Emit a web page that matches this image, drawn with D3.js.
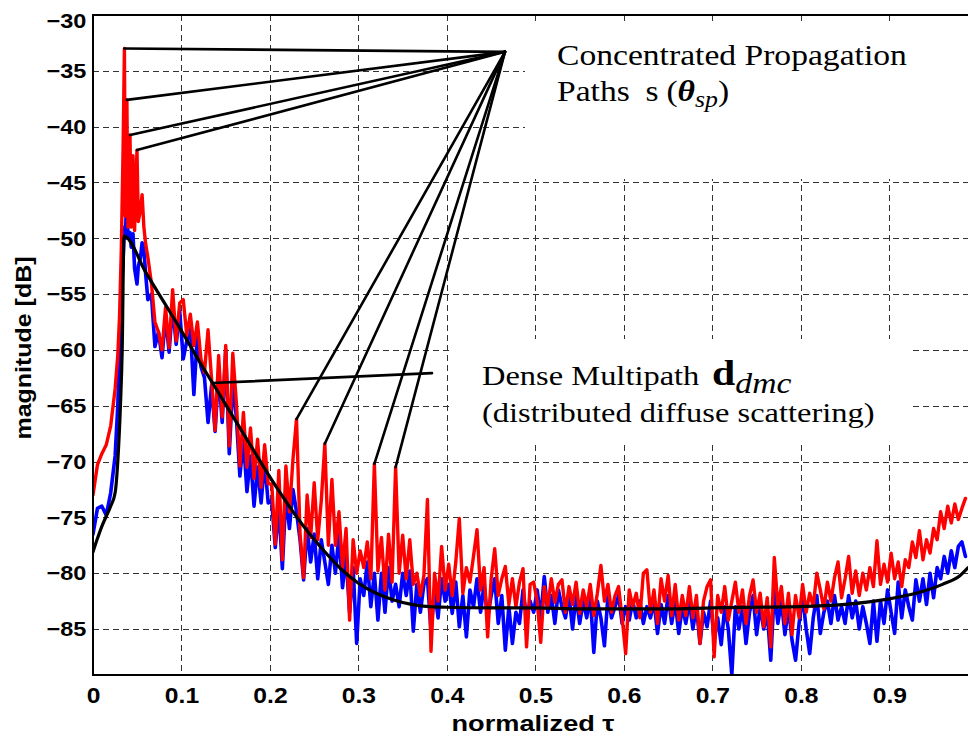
<!DOCTYPE html>
<html>
<head>
<meta charset="utf-8">
<style>
body { margin: 0; background: #fff; }
</style>
</head>
<body>
<svg id="chart" width="968" height="737"></svg>
<script src="https://cdn.jsdelivr.net/npm/d3@7"></script>
<script>
// ---- data ----
// sampling positions (normalized tau)
var tauHead = [0, 0.005, 0.010, 0.015, 0.020, 0.025,
  0.028, 0.030, 0.032, 0.034, 0.0355, 0.0365, 0.0383, 0.0395, 0.0418, 0.0432,
  0.0452, 0.047, 0.0497, 0.0512, 0.0535, 0.0555, 0.0575, 0.0595, 0.062];
var tauTail = d3.range(231).map(function(i) { return +(0.066 + 0.004 * i).toFixed(3); });

// measured magnitude, red trace [dB]
var redHead = [-73.0, -70.3, -69.3, -68.5, -66.8, -63.5,
  -60.5, -57.0, -51.0, -42.0, -33.0, -48.0, -37.6, -49.0, -40.75, -49.0,
  -42.6, -49.3, -42.1, -48.5, -47.5, -46.1, -49.0, -50.5, -51.7];
var redTail = [
  -54.0, -57.5, -58.4, -60.0, -56.2, -59.8, -54.6, -59.2, -55.8, -55.5,
  -58.7, -56.8, -59.6, -57.5, -60.8, -62.0, -58.2, -62.6, -67.2, -60.5,
  -66.0, -59.6, -68.6, -60.3, -64.7, -70.4, -65.6, -70.5, -67.0, -71.5,
  -68.0, -72.3, -68.5, -72.0, -72.0, -77.4, -70.8, -78.8, -70.4, -74.5,
  -69.8, -66.2, -76.5, -80.4, -73.0, -76.8, -71.9, -77.0, -73.5, -68.4,
  -77.5, -71.6, -77.5, -74.5, -79.5, -76.0, -84.2, -77.0, -80.0, -78.0,
  -79.5, -77.2, -80.5, -70.2, -79.8, -76.8, -81.5, -76.5, -80.8, -70.5,
  -80.0, -76.6, -80.5, -77.0, -81.0, -80.0, -82.0, -80.2, -73.4, -87.0,
  -80.0, -82.5, -77.6, -81.5, -79.2, -82.0, -79.0, -75.1, -81.8, -79.5,
  -80.8, -78.5, -76.1, -81.5, -79.5, -85.7, -80.5, -77.8, -82.0, -80.5,
  -79.4, -82.8, -80.5, -83.0, -80.8, -79.6, -86.6, -81.0, -80.8, -82.5,
  -86.2, -81.2, -83.0, -80.5, -82.6, -81.0, -80.6, -83.5, -81.2, -82.8,
  -80.8, -83.6, -81.5, -83.0, -81.0, -83.8, -81.8, -79.3, -82.5, -81.0,
  -83.5, -82.0, -81.2, -84.0, -87.2, -81.5, -83.0, -81.8, -84.0, -80.0,
  -79.7, -83.5, -81.5, -84.5, -80.5, -82.5, -80.2, -83.8, -81.0, -84.2,
  -82.0, -83.8, -81.2, -84.0, -82.0, -86.3, -82.5, -81.2, -80.6, -87.5,
  -82.0, -83.5, -81.2, -84.2, -82.5, -80.8, -83.5, -81.5, -84.5, -82.0,
  -80.6, -83.5, -81.8, -84.8, -82.2, -86.6, -78.6, -83.0, -81.2, -84.5,
  -81.8, -85.5, -82.0, -84.0, -81.0, -83.5, -81.8, -83.0, -80.0, -81.5,
  -83.2, -80.8, -82.5, -80.4, -79.0, -82.2, -80.5, -78.5, -81.8, -79.8,
  -82.0, -80.0, -81.5, -79.5, -81.2, -77.1, -81.0, -79.2, -80.8, -78.2,
  -80.5, -79.0, -81.2, -78.8, -79.5, -77.2, -78.6, -76.2, -78.8, -77.0,
  -78.2, -76.0, -77.0, -74.5, -76.0, -74.0, -75.5, -73.8, -75.2, -74.2,
  -73.3];

// measured magnitude, blue trace [dB]
var blueHead = [-76.5, -74.2, -74.0, -74.8, -72.8, -69.5,
  -65.0, -60.0, -55.0, -52.0, -49.0, -50.0, -46.1, -50.0, -49.5, -50.8,
  -49.6, -52.7, -54.1, -52.5, -51.8, -50.4, -51.0, -53.2, -55.5];
var blueTail = [
  -55.0, -59.7, -58.4, -60.7, -57.0, -60.2, -56.0, -59.5, -56.5, -60.8,
  -59.2, -58.0, -64.0, -58.6, -61.5, -62.5, -66.5, -63.2, -67.3, -62.0,
  -66.5, -60.0, -69.3, -63.0, -66.0, -71.3, -68.0, -72.7, -69.5, -74.0,
  -70.5, -73.7, -70.0, -73.7, -73.5, -77.7, -74.0, -79.6, -73.0, -76.0,
  -72.5, -74.5, -77.0, -80.6, -76.0, -79.0, -76.5, -80.5, -77.0, -79.0,
  -81.0, -77.5, -80.0, -76.5, -81.3, -78.5, -83.5, -79.5, -86.3, -80.5,
  -82.0, -79.0, -83.0, -80.0, -84.2, -80.0, -83.5, -79.5, -82.5, -81.0,
  -83.0, -80.0, -82.0, -79.8, -85.2, -81.0, -83.5, -81.0, -80.5, -85.2,
  -81.5, -84.0, -80.5, -82.5, -81.0, -83.6, -80.8, -84.8, -82.0, -85.7,
  -81.5, -83.0, -80.5, -83.5, -81.0, -84.0, -82.0, -80.5, -84.5, -82.0,
  -86.9, -83.0, -86.3, -83.5, -84.5, -81.5, -84.0, -82.5, -83.5, -81.5,
  -84.0, -80.3, -83.5, -82.0, -84.5, -81.5, -83.0, -84.0, -82.0, -85.0,
  -82.0, -84.5, -82.5, -84.0, -82.0, -87.1, -82.5, -84.0, -86.5, -82.0,
  -84.0, -83.0, -82.0, -84.5, -83.0, -84.2, -82.5, -84.0, -82.5, -84.5,
  -83.0, -84.0, -82.5, -85.4, -82.8, -84.5, -82.0, -84.5, -82.5, -85.4,
  -83.0, -84.5, -82.5, -85.0, -83.0, -86.3, -83.5, -84.8, -82.5, -86.0,
  -84.0, -86.4, -83.0, -85.0, -89.1, -83.0, -85.0, -83.0, -86.3, -83.5,
  -82.0, -85.5, -83.0, -85.0, -83.5, -87.8, -81.5, -84.5, -82.5, -85.5,
  -83.0, -86.0, -87.8, -84.5, -82.0, -85.0, -87.2, -84.0, -82.0, -85.4,
  -83.5, -82.5, -84.5, -82.0, -84.2, -83.0, -84.5, -82.0, -84.0, -82.5,
  -85.0, -83.0, -84.5, -86.3, -82.5, -86.1, -82.5, -84.5, -81.5, -83.5,
  -85.4, -80.8, -84.0, -81.5, -83.0, -84.2, -80.6, -82.5, -80.5, -82.8,
  -80.0, -82.2, -79.5, -80.5, -78.5, -80.0, -78.0, -79.5, -77.6, -77.2,
  -78.5];

// model (black) curve
var modelTau = [0, 0.005, 0.010, 0.015, 0.020, 0.025, 0.028, 0.031, 0.033, 0.035,
  0.06, 0.08, 0.10, 0.12, 0.14, 0.16, 0.18, 0.20, 0.22, 0.24,
  0.26, 0.28, 0.30, 0.32, 0.34, 0.36, 0.38, 0.40, 0.45, 0.50,
  0.55, 0.60, 0.65, 0.70, 0.75, 0.80, 0.85, 0.90, 0.93, 0.96, 0.98, 0.989];
var modelDb = [-78.1, -76.9, -75.8, -74.9, -74.0, -72.8, -70.0, -65.0, -60.0, -49.8,
  -53.1, -55.7, -58.3, -61.0, -63.6, -66.2, -68.8, -71.4, -73.8, -76.0,
  -77.9, -79.6, -80.9, -81.8, -82.4, -82.8, -83.0, -83.05, -83.1, -83.1,
  -83.2, -83.2, -83.2, -83.1, -83.05, -83.0, -82.8, -82.3, -81.8, -81.0, -80.2, -79.5];

// annotated specular peaks and label anchors
var spikeTau = [0.0355, 0.0383, 0.0418, 0.0497, 0.230, 0.262, 0.318, 0.342];
var spikeDb = [-33.0, -37.6, -40.75, -42.1, -66.2, -68.4, -70.2, -70.5];
var hubPoint = [0.4656, -33.3];
var dmcPointer = [[0.1345, -62.97], [0.3831, -62.08]];

var xTicks = [0, 0.1, 0.2, 0.3, 0.4, 0.5, 0.6, 0.7, 0.8, 0.9];
var yTicks = [-30, -35, -40, -45, -50, -55, -60, -65, -70, -75, -80, -85];

// ---- drawing ----
var svg = d3.select("#chart");
var x = d3.scaleLinear().domain([0, 0.9889]).range([93, 968]);
var y = d3.scaleLinear().domain([-89.12, -30]).range([675, 15]);

var tau = tauHead.concat(tauTail);
var red = tau.map(function(t, i) { return [t, redHead.concat(redTail)[i]]; });
var blue = tau.map(function(t, i) { return [t, blueHead.concat(blueTail)[i]]; });
var model = modelTau.map(function(t, i) { return [t, modelDb[i]]; });

svg.append("rect").attr("width", 968).attr("height", 737).attr("fill", "#fff");

// grid
var grid = svg.append("g").attr("stroke", "#333").attr("stroke-width", 1)
  .attr("stroke-dasharray", "6,4");
grid.selectAll("line.v").data(xTicks.slice(1)).enter().append("line")
  .attr("x1", function(d) { return Math.round(x(d)) + 0.5; })
  .attr("x2", function(d) { return Math.round(x(d)) + 0.5; })
  .attr("y1", y(-30)).attr("y2", 675);
grid.selectAll("line.h").data(yTicks.slice(1)).enter().append("line")
  .attr("y1", function(d) { return Math.round(y(d)) + 0.5; })
  .attr("y2", function(d) { return Math.round(y(d)) + 0.5; })
  .attr("x1", 93).attr("x2", 968);

// white boxes behind the two captions
svg.append("rect").attr("x", 525).attr("y", 21).attr("width", 443).attr("height", 158).attr("fill", "#fff");
svg.append("rect").attr("x", 449).attr("y", 339).attr("width", 464).attr("height", 104).attr("fill", "#fff");

svg.append("clipPath").attr("id", "plot").append("rect")
  .attr("x", 93).attr("y", 15).attr("width", 875).attr("height", 660);

var line = d3.line().x(function(d) { return x(d[0]); }).y(function(d) { return y(d[1]); });
var plot = svg.append("g").attr("clip-path", "url(#plot)").attr("fill", "none")
  .attr("stroke-linejoin", "round").attr("stroke-linecap", "round");

plot.append("path").datum(blue).attr("d", line).attr("stroke", "#0000ff").attr("stroke-width", 3.6);
plot.append("path").datum(red).attr("d", line).attr("stroke", "#ff0000").attr("stroke-width", 3.4);
plot.append("path").datum(model).attr("d", line.curve(d3.curveMonotoneX))
  .attr("stroke", "#000").attr("stroke-width", 3.2);

// pointer lines
var pointers = svg.append("g").attr("stroke", "#000").attr("stroke-width", 2.6).attr("stroke-linecap", "round");
pointers.selectAll("line").data(spikeTau).enter().append("line")
  .attr("x1", x(hubPoint[0])).attr("y1", y(hubPoint[1]))
  .attr("x2", function(d) { return x(d); })
  .attr("y2", function(d, i) { return y(spikeDb[i]); });
pointers.append("line")
  .attr("x1", x(dmcPointer[0][0])).attr("y1", y(dmcPointer[0][1]))
  .attr("x2", x(dmcPointer[1][0])).attr("y2", y(dmcPointer[1][1]));

// frame
svg.append("path").attr("d", "M968,15H93V675H968").attr("fill", "none")
  .attr("stroke", "#000").attr("stroke-width", 2);

// axes labels
var sans = "'Liberation Sans', Arial, sans-serif";
var yAxis = svg.append("g").attr("transform", "translate(93,0)")
  .call(d3.axisLeft(y).tickValues(yTicks).tickSize(0).tickPadding(6).tickFormat(d3.format("d")));
yAxis.select(".domain").remove();
yAxis.attr("font-size", 21).attr("font-weight", "bold").attr("font-family", sans);
yAxis.selectAll("text").attr("fill", "#000").attr("transform", "scale(1.12,1)");
yAxis.selectAll(".tick").filter(function(d) { return d === -30; }).select("text").attr("y", 6);

var xAxis = svg.append("g").attr("transform", "translate(0,675)")
  .call(d3.axisBottom(x).tickValues(xTicks).tickSize(0).tickPadding(12)
    .tickFormat(function(d) { return d === 0 ? "0" : d3.format(".1f")(d); }));
xAxis.select(".domain").remove();
xAxis.attr("font-size", 22).attr("font-weight", "bold").attr("font-family", sans);
xAxis.selectAll("text").attr("fill", "#000").attr("transform", "scale(1.12,1)");

svg.append("text").attr("x", 533).attr("y", 731).attr("text-anchor", "middle")
  .attr("font-family", sans).attr("font-weight", "bold")
  .attr("font-size", 22).attr("textLength", 163).attr("lengthAdjust", "spacingAndGlyphs")
  .text("normalized τ");
svg.append("text").attr("transform", "translate(31,348) rotate(-90)").attr("text-anchor", "middle")
  .attr("font-family", sans).attr("font-weight", "bold")
  .attr("font-size", 22).attr("textLength", 183).attr("lengthAdjust", "spacingAndGlyphs")
  .text("magnitude [dB]");

// captions
var serif = "'Liberation Serif', 'Times New Roman', serif";
var cap1 = svg.append("g").attr("font-family", serif).attr("fill", "#000");
cap1.append("text").attr("transform", "translate(557,65) scale(1.12,1)").attr("font-size", 30)
  .text("Concentrated Propagation");
var l2 = cap1.append("text").attr("transform", "translate(557,101) scale(1.12,1)").attr("font-size", 30);
l2.append("tspan").text("Paths");
l2.append("tspan").attr("dx", 14).text("s");
l2.append("tspan").attr("dx", 7).text("(");
l2.append("tspan").attr("font-weight", "bold").attr("font-style", "italic").text("θ");
l2.append("tspan").attr("font-style", "italic").attr("font-size", 23).attr("dy", 6).text("sp");
l2.append("tspan").attr("dy", -6).text(")");

var cap2 = svg.append("g").attr("font-family", serif).attr("fill", "#000");
var d1 = cap2.append("text").attr("transform", "translate(482,385) scale(1.16,1)").attr("font-size", 28);
d1.append("tspan").text("Dense Multipath");
d1.append("tspan").attr("dx", 11).attr("font-size", 36).attr("font-weight", "bold").text("d");
d1.append("tspan").attr("font-style", "italic").attr("font-size", 29).attr("dy", 8).text("dmc");
cap2.append("text").attr("transform", "translate(482,422) scale(1.16,1)").attr("font-size", 28)
  .text("(distributed diffuse scattering)");
</script>
</body>
</html>
